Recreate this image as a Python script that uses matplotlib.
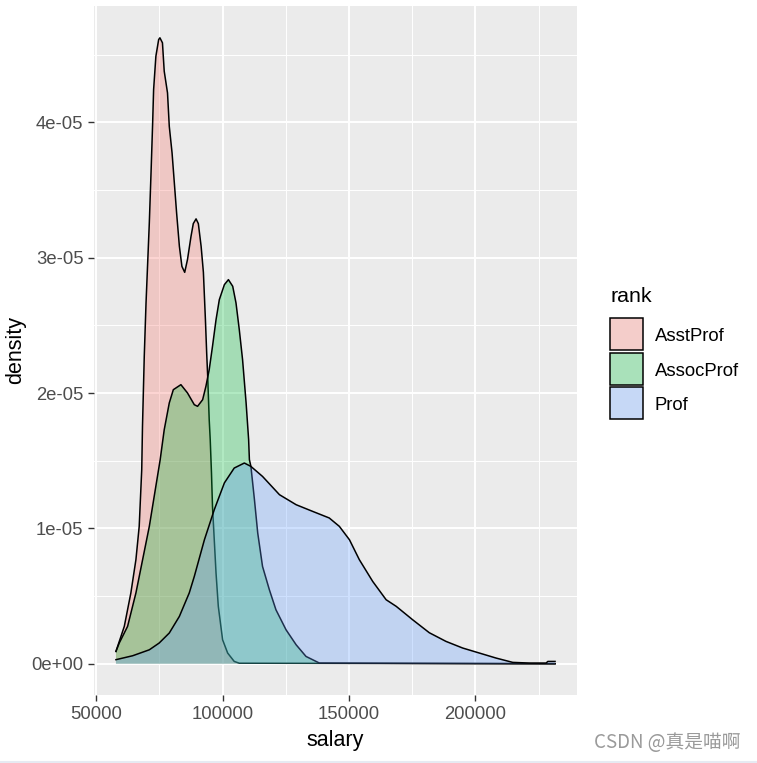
import matplotlib
matplotlib.use("Agg")
import matplotlib.pyplot as plt
from matplotlib.patches import Rectangle
from matplotlib.lines import Line2D
from matplotlib.colors import to_rgb
import numpy as np

plt.rcParams["font.family"] = ["Liberation Sans", "DejaVu Sans"]

# density curves (density in units of 1e-05)
asst_salary = [57800, 61100, 63700, 65700, 67000, 68000, 68300, 69000, 69700, 71000,
               71700, 72300, 72700, 73600, 74700, 75200, 76200, 76900, 78200, 78900,
               80000, 80900, 81800, 82900, 83900, 85000, 86100, 87500, 88400, 89500,
               90400, 91500, 92400, 93200, 93700, 94100, 94700, 95100, 95600, 96000,
               96700, 97400, 98300, 100000, 102000, 104600, 106600, 231545]
asst_density = [0.091, 0.276, 0.523, 0.769, 1.015, 1.434, 1.754, 2.271, 2.666, 3.257,
                3.639, 3.984, 4.242, 4.489, 4.612, 4.625, 4.588, 4.378, 4.218, 3.971,
                3.775, 3.553, 3.331, 3.084, 2.936, 2.892, 2.986, 3.158, 3.252, 3.287,
                3.252, 3.084, 2.892, 2.542, 2.296, 2.124, 1.803, 1.656, 1.409, 1.163,
                0.916, 0.670, 0.424, 0.177, 0.079, 0.017, 0.004, 0.0]

assoc_salary = [57800, 59100, 62400, 65700, 71000, 75300, 76900, 78900, 80500, 83500,
                86100, 88800, 90100, 92100, 93400, 94700, 96000, 97400, 98700, 100700,
                102300, 104000, 105300, 106600, 107900, 109300, 110300, 110600, 111200,
                112600, 113900, 115800, 118500, 121100, 125100, 129100, 133000, 138300,
                231545]
assoc_density = [0.091, 0.153, 0.276, 0.523, 1.015, 1.508, 1.729, 1.927, 2.025, 2.062,
                 2.001, 1.914, 1.902, 1.951, 2.050, 2.173, 2.345, 2.542, 2.690, 2.801,
                 2.838, 2.789, 2.666, 2.469, 2.247, 1.927, 1.656, 1.508, 1.458,
                 1.212, 0.966, 0.719, 0.547, 0.399, 0.251, 0.140, 0.054, 0.005,
                 0.0]

prof_salary = [57800, 64400, 71000, 74900, 78900, 82900, 86800, 88800, 92800, 96700,
               100700, 104600, 108600, 111200, 115800, 122500, 129100, 135600, 142200,
               146200, 150200, 154100, 159400, 164700, 168700, 175200, 181800, 188400,
               195000, 201600, 208200, 214800, 221400, 228000, 228700, 231545]
prof_density = [0.030, 0.059, 0.103, 0.153, 0.227, 0.350, 0.523, 0.645, 0.916, 1.138,
                1.336, 1.446, 1.483, 1.458, 1.384, 1.249, 1.175, 1.126, 1.077,
                1.015, 0.916, 0.769, 0.608, 0.473, 0.424, 0.325, 0.229, 0.165,
                0.116, 0.079, 0.042, 0.010, 0.005, 0.005, 0.017, 0.017]

ranks = ["AsstProf", "AssocProf", "Prof"]
curves = [(asst_salary, asst_density), (assoc_salary, assoc_density), (prof_salary, prof_density)]
colors = ["#F8766D", "#00BA38", "#619CFF"]

x_ticks = [50000, 100000, 150000, 200000]
y_ticks = [0, 1e-05, 2e-05, 3e-05, 4e-05]

W, H = 757, 763
fig = plt.figure(figsize=(W / 100, H / 100), dpi=100)
ax = fig.add_axes([94 / W, 1 - 695 / H, (577 - 94) / W, (695 - 6) / H])
ax.set_facecolor("#EBEBEB")

for i, (xs, ds) in enumerate(curves):
    xs = np.array(xs)
    ys = np.array(ds) * 1e-05
    ax.fill_between(xs, 0, ys, facecolor=colors[i], alpha=0.3, linewidth=0, zorder=2 + 2 * i)
    ax.plot(xs, ys, color="black", lw=1.1, zorder=3 + 2 * i)

ax.set_xlim(49113, 240232)
ax.set_ylim(-0.231e-05, 4.86e-05)

ax.set_xticks(x_ticks)
ax.set_xticklabels([str(v) for v in x_ticks])
ax.set_yticks(y_ticks)
ax.set_yticklabels([f"{v:.0e}" for v in y_ticks])
ax.set_xticks([75000, 125000, 175000, 225000], minor=True)
ax.set_yticks([0.5e-05, 1.5e-05, 2.5e-05, 3.5e-05, 4.5e-05], minor=True)

ax.grid(which="major", color="white", lw=1.4, zorder=0)
ax.grid(which="minor", color="white", lw=0.7, zorder=0)
ax.set_axisbelow(True)
for s in ax.spines.values():
    s.set_visible(False)

ax.tick_params(which="major", length=4.3, width=1, color="#333333",
               labelsize=13.3, labelcolor="#4D4D4D")
ax.tick_params(axis="y", pad=3.3)
ax.tick_params(axis="x", pad=3.5)
ax.tick_params(which="minor", length=0)

ax.set_xlabel("salary", fontsize=15.5, labelpad=5)
ax.set_ylabel("density", fontsize=15.5, labelpad=3.5)


def blend(c, a, bg="#F2F2F2"):
    c = np.array(to_rgb(c))
    b = np.array(to_rgb(bg))
    return tuple(a * c + (1 - a) * b)


# legend drawn by hand to match ggplot's key boxes
fig.text(610 / W, 1 - 302 / H, "rank", fontsize=15.4, ha="left", va="baseline")
for i, (name, c) in enumerate(zip(ranks, colors)):
    top = 318.5 + 34.2 * i
    fig.add_artist(Rectangle((610 / W, 1 - (top + 32) / H), 33 / W, 32 / H,
                             transform=fig.transFigure, facecolor=blend(c, 0.3),
                             edgecolor="black", lw=1.1))
    fig.text(655 / W, 1 - (top + 22.8) / H, name, fontsize=13.3,
             ha="left", va="baseline")

fig.text(741 / W, 1 - 743 / H, "CSDN @真是喵啊", ha="right", va="center", fontsize=13.5,
         color="#9A9A9A", family=["Noto Sans CJK SC", "DejaVu Sans"])
fig.add_artist(Line2D([0, 1], [0.0015, 0.0015], color="#E6EAF2", lw=1.5))

fig.savefig("out.png", dpi=100)
